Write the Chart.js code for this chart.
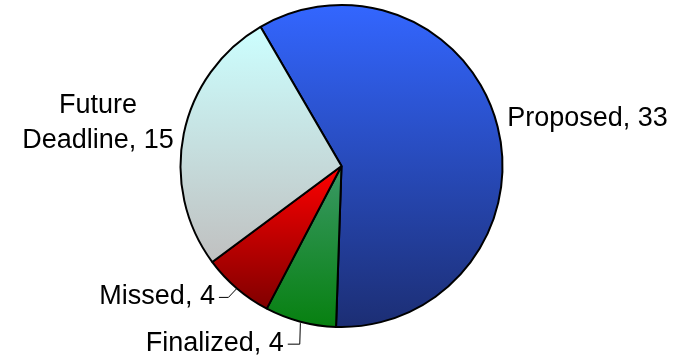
<!DOCTYPE html>
<html>
<head>
<meta charset="utf-8">
<script src="https://cdn.jsdelivr.net/npm/chart.js@4"></script>
<style>
  html, body { margin: 0; padding: 0; background: #ffffff; }
  #wrap { width: 681px; height: 361px; }
</style>
</head>
<body>
<div id="wrap"><canvas id="chart" width="681" height="361"></canvas></div>
<script>
// Rule status counts
const categories = ['Proposed', 'Finalized', 'Missed', 'Future Deadline'];
const counts = [33, 4, 4, 15];

// Vertical gradient stops for each slice (top colour, bottom colour)
const gradientTops = ['#3366FF', '#3A9966', '#FF0000', '#CCFFFF'];
const gradientBottoms = ['#1C2E74', '#078010', '#800000', '#C0C0C0'];

const FONT = '"Liberation Sans", Arial, sans-serif';
const FONT_SIZE = 27;
const PIE_RADIUS = 161;
const START_DEG = -30.2; // first slice starts left of twelve o'clock

// Label placement relative to the slice's outer mid-point
const labelPlacement = [
  { tx: 9.5,   ty: -8.5, align: 'left' },
  { tx: -16.6, ty: 22,   align: 'right', leader: [[0, 1.5], [-0.6, 22.5], [-12.6, 22.5]] },
  { tx: -22,   ty: 8.5,  align: 'right', leader: [[0, 0], [-8.5, 9], [-18, 9]] },
  { tx: -10,   ty: -10.5, align: 'right', wrap: true, lineHeight: 35 }
];

// Angular extent (degrees clockwise from 12 o'clock) of each slice
function sliceAngles() {
  const total = counts.reduce((a, b) => a + b, 0);
  let a = START_DEG;
  return counts.map(v => {
    const s = a;
    a += v / total * 360;
    return [s, a];
  });
}

function sliceGradient(context) {
  const chart = context.chart;
  const i = context.dataIndex;
  const area = chart.chartArea;
  if (!area || i === undefined) return gradientTops[i] || '#888';
  const cx = (area.left + area.right) / 2;
  const cy = (area.top + area.bottom) / 2;
  const [s, e] = sliceAngles()[i];
  const yAt = d => cy - PIE_RADIUS * Math.cos(d * Math.PI / 180);
  const ys = [cy, yAt(s), yAt(e)];
  for (let k = -360; k <= 720; k += 180) {
    if (k > s && k < e) ys.push(yAt(k));
  }
  const y0 = Math.min(...ys), y1 = Math.max(...ys);
  const g = chart.ctx.createLinearGradient(0, y0, 0, y1);
  g.addColorStop(0, gradientTops[i]);
  g.addColorStop(1, gradientBottoms[i]);
  return g;
}

const sliceLabels = {
  id: 'sliceLabels',
  afterDatasetsDraw(chart) {
    const ctx = chart.ctx;
    const meta = chart.getDatasetMeta(0);
    ctx.save();
    ctx.font = FONT_SIZE + 'px ' + FONT;
    ctx.fillStyle = '#000000';
    ctx.textBaseline = 'middle';
    ctx.textAlign = 'left';
    meta.data.forEach((arc, i) => {
      const { x, y, startAngle, endAngle, outerRadius } =
        arc.getProps(['x', 'y', 'startAngle', 'endAngle', 'outerRadius'], true);
      const mid = (startAngle + endAngle) / 2;
      const ax = x + Math.cos(mid) * outerRadius;
      const ay = y + Math.sin(mid) * outerRadius;
      const p = labelPlacement[i];

      if (p.leader) {
        ctx.beginPath();
        ctx.strokeStyle = '#000000';
        ctx.lineWidth = 1;
        p.leader.forEach(([dx, dy], k) => {
          if (k === 0) ctx.moveTo(ax + dx, ay + dy);
          else ctx.lineTo(ax + dx, ay + dy);
        });
        ctx.stroke();
      }

      const text = categories[i] + ', ' + counts[i];
      let lines = [text];
      if (p.wrap) {
        const sp = text.indexOf(' ');
        lines = [text.slice(0, sp), text.slice(sp + 1)];
      }
      const widths = lines.map(l => ctx.measureText(l).width);
      const maxW = Math.max(...widths);
      const edge = ax + p.tx;
      const left = p.align === 'left' ? edge : edge - maxW;
      const lh = p.lineHeight || FONT_SIZE * 1.2;
      const top = ay + p.ty - (lines.length - 1) * lh / 2;
      lines.forEach((l, k) => {
        ctx.fillText(l, left + (maxW - widths[k]) / 2, top + k * lh);
      });
    });
    ctx.restore();
  }
};

new Chart(document.getElementById('chart'), {
  type: 'pie',
  data: {
    labels: categories,
    datasets: [{
      data: counts,
      backgroundColor: sliceGradient,
      borderColor: '#000000',
      borderWidth: 2
    }]
  },
  options: {
    responsive: false,
    animation: false,
    events: [],
    rotation: START_DEG,
    radius: PIE_RADIUS,
    layout: { padding: { left: 180, right: 178, top: 5, bottom: 34 } },
    plugins: {
      legend: { display: false },
      tooltip: { enabled: false }
    }
  },
  plugins: [sliceLabels]
});
</script>
</body>
</html>
